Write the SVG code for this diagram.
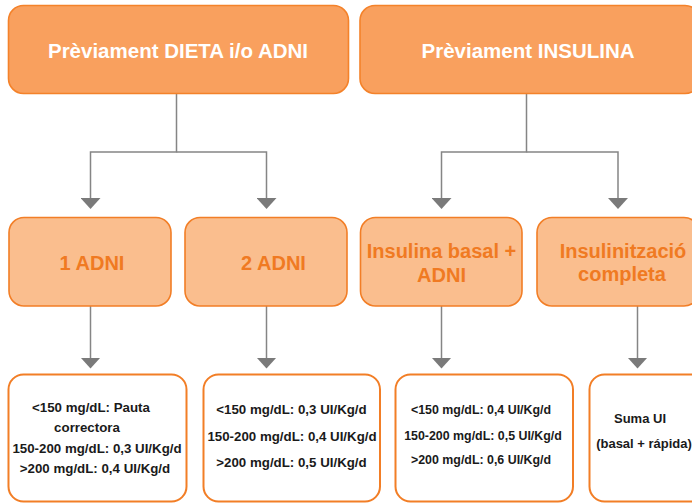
<svg xmlns="http://www.w3.org/2000/svg" width="692" height="503" viewBox="0 0 692 503">
  <defs>
    <style>
      .top { fill: #F9A05E; stroke: #F4822A; stroke-width: 1.6; }
      .mid { fill: #FABE8E; stroke: #F27E26; stroke-width: 1.6; }
      .low { fill: #FFFFFF; stroke: #F27E26; stroke-width: 2; }
      .ttl { font-family: "Liberation Sans", Arial, sans-serif; font-weight: bold; font-size: 20.5px; fill: #FFFFFF; text-anchor: middle; }
      .sub { font-family: "Liberation Sans", Arial, sans-serif; font-weight: bold; font-size: 20px; fill: #F07A22; text-anchor: middle; }
      .dose { font-family: "Liberation Sans", Arial, sans-serif; font-weight: bold; font-size: 13.3px; fill: #1A1A1A; text-anchor: middle; }
      .dose.sm { font-size: 12.4px; }
      .dose.md { font-size: 13px; }
      .wire { fill: none; stroke: #858585; stroke-width: 1.5; }
    </style>
    <marker id="arrow" markerUnits="userSpaceOnUse" viewBox="0 0 11 20" markerWidth="11" markerHeight="20" refX="6" refY="10" orient="auto">
      <path d="M0,0 L11,10 L0,20 Z" fill="#7A7A7A"/>
    </marker>
  </defs>

  <!-- connectors -->
  <g id="connectors">
    <path class="wire" d="M176.5,94 V152 H90.5 V204" marker-end="url(#arrow)"/>
    <path class="wire" d="M176.5,152 H266.5 V204" marker-end="url(#arrow)"/>
    <path class="wire" d="M526.5,94 V152 H441.5 V204" marker-end="url(#arrow)"/>
    <path class="wire" d="M526.5,152 H618 V204" marker-end="url(#arrow)"/>
    <path class="wire" d="M90.5,306 V363.5" marker-end="url(#arrow)"/>
    <path class="wire" d="M266.5,306 V363.5" marker-end="url(#arrow)"/>
    <path class="wire" d="M441.5,306 V363.5" marker-end="url(#arrow)"/>
    <path class="wire" d="M637.5,306 V363.5" marker-end="url(#arrow)"/>
  </g>

  <!-- first level -->
  <g id="node-dieta">
    <rect class="top" x="8.5" y="5.5" width="340" height="88" rx="15"/>
    <text class="ttl" x="178" y="58">Prèviament DIETA i/o ADNI</text>
  </g>
  <g id="node-insulina">
    <rect class="top" x="360" y="5.5" width="340" height="88" rx="15"/>
    <text class="ttl" x="528" y="58">Prèviament INSULINA</text>
  </g>

  <!-- second level -->
  <g id="node-1adni">
    <rect class="mid" x="9" y="217.5" width="162" height="88.5" rx="15"/>
    <text class="sub" x="92" y="270">1 ADNI</text>
  </g>
  <g id="node-2adni">
    <rect class="mid" x="185" y="217.5" width="162" height="88.5" rx="15"/>
    <text class="sub" x="273.5" y="270">2 ADNI</text>
  </g>
  <g id="node-basal">
    <rect class="mid" x="360.5" y="217.5" width="161.5" height="88.5" rx="15"/>
    <text class="sub" x="441.5" y="258">Insulina basal +</text>
    <text class="sub" x="441.5" y="282">ADNI</text>
  </g>
  <g id="node-completa">
    <rect class="mid" x="537" y="217.5" width="162" height="88.5" rx="15"/>
    <text class="sub" x="623" y="258">Insulinització</text>
    <text class="sub" x="622" y="281">completa</text>
  </g>

  <!-- dose boxes -->
  <g id="dose-1adni">
    <rect class="low" x="8.5" y="374.5" width="178" height="127" rx="15"/>
    <text class="dose" x="91" y="412">&lt;150 mg/dL: Pauta</text>
    <text class="dose" x="87" y="432">correctora</text>
    <text class="dose" x="97" y="452.5">150-200 mg/dL: 0,3 UI/Kg/d</text>
    <text class="dose" x="95" y="472.5">&gt;200 mg/dL: 0,4 UI/Kg/d</text>
  </g>
  <g id="dose-2adni">
    <rect class="low" x="203.5" y="374.5" width="176.5" height="127" rx="15"/>
    <text class="dose" x="291.5" y="414">&lt;150 mg/dL: 0,3 UI/Kg/d</text>
    <text class="dose" x="292" y="441">150-200 mg/dL: 0,4 UI/Kg/d</text>
    <text class="dose" x="291.5" y="467">&gt;200 mg/dL: 0,5 UI/Kg/d</text>
  </g>
  <g id="dose-basal">
    <rect class="low" x="395.5" y="374.5" width="177.5" height="127" rx="15"/>
    <text class="dose sm" x="481" y="414">&lt;150 mg/dL: 0,4 UI/Kg/d</text>
    <text class="dose sm" x="483" y="440">150-200 mg/dL: 0,5 UI/Kg/d</text>
    <text class="dose sm" x="481" y="464">&gt;200 mg/dL: 0,6 UI/Kg/d</text>
  </g>
  <g id="dose-completa">
    <rect class="low" x="589.5" y="374.5" width="120" height="127" rx="15"/>
    <text class="dose md" x="640" y="423">Suma UI</text>
    <text class="dose md" x="644" y="448">(basal + rápida)</text>
  </g>
</svg>
